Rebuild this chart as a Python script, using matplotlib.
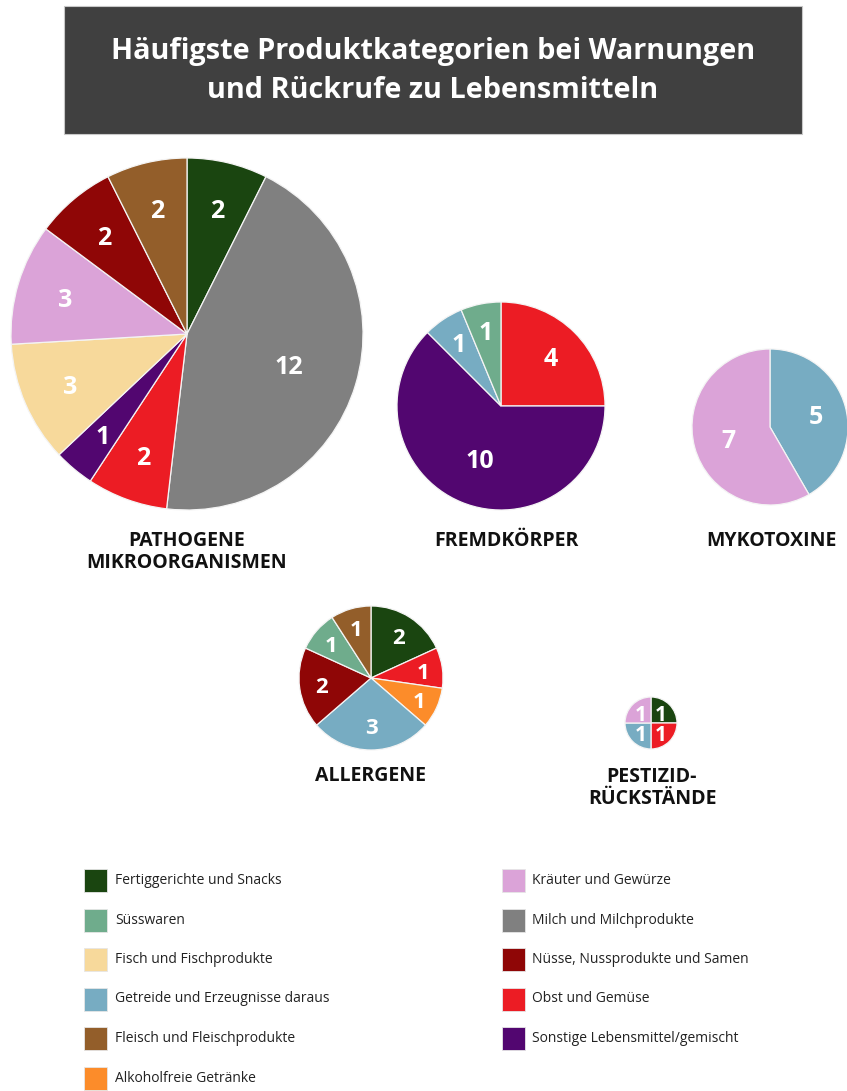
import matplotlib
matplotlib.use("Agg")
import matplotlib.pyplot as plt
from matplotlib.patches import Rectangle
import numpy as np

W, H = 847, 1091
FONT = ["Open Sans", "DejaVu Sans"]

# ---------------- data ----------------
title = "Häufigste Produktkategorien bei Warnungen\nund Rückrufe zu Lebensmitteln"

legend_left = ["Fertiggerichte und Snacks", "Süsswaren", "Fisch und Fischprodukte",
               "Getreide und Erzeugnisse daraus", "Fleisch und Fleischprodukte",
               "Alkoholfreie Getränke"]
legend_right = ["Kräuter und Gewürze", "Milch und Milchprodukte",
                "Nüsse, Nussprodukte und Samen", "Obst und Gemüse",
                "Sonstige Lebensmittel/gemischt"]

colors = {
    "Fertiggerichte und Snacks": "#1a4510",
    "Süsswaren": "#6fac8c",
    "Fisch und Fischprodukte": "#f7d99b",
    "Getreide und Erzeugnisse daraus": "#77acc2",
    "Fleisch und Fleischprodukte": "#935e2a",
    "Alkoholfreie Getränke": "#fc8c2a",
    "Kräuter und Gewürze": "#dba3d8",
    "Milch und Milchprodukte": "#808080",
    "Nüsse, Nussprodukte und Samen": "#8f0606",
    "Obst und Gemüse": "#ec1c24",
    "Sonstige Lebensmittel/gemischt": "#520670",
}

pathogene_cats = ["Fertiggerichte und Snacks", "Milch und Milchprodukte", "Obst und Gemüse",
                  "Sonstige Lebensmittel/gemischt", "Fisch und Fischprodukte",
                  "Kräuter und Gewürze", "Nüsse, Nussprodukte und Samen",
                  "Fleisch und Fleischprodukte"]
pathogene_vals = [2, 12, 2, 1, 3, 3, 2, 2]

fremd_cats = ["Obst und Gemüse", "Sonstige Lebensmittel/gemischt",
              "Getreide und Erzeugnisse daraus", "Süsswaren"]
fremd_vals = [4, 10, 1, 1]

myko_cats = ["Getreide und Erzeugnisse daraus", "Kräuter und Gewürze"]
myko_vals = [5, 7]

allergene_cats = ["Fertiggerichte und Snacks", "Obst und Gemüse", "Alkoholfreie Getränke",
                  "Getreide und Erzeugnisse daraus", "Nüsse, Nussprodukte und Samen",
                  "Süsswaren", "Fleisch und Fleischprodukte"]
allergene_vals = [2, 1, 1, 3, 2, 1, 1]

pestizid_cats = ["Fertiggerichte und Snacks", "Obst und Gemüse",
                 "Getreide und Erzeugnisse daraus", "Kräuter und Gewürze"]
pestizid_vals = [1, 1, 1, 1]

pie_titles = ["PATHOGENE\nMIKROORGANISMEN", "FREMDKÖRPER", "MYKOTOXINE",
              "ALLERGENE", "PESTIZID-\nRÜCKSTÄNDE"]

# ---------------- figure ----------------
fig = plt.figure(figsize=(W / 100, H / 100), dpi=100)
ax = fig.add_axes([0, 0, 1, 1])


def draw_pie(cats, vals, cx, cy, r, fs, dist=None):
    total = sum(vals)
    wedges, _, autotexts = ax.pie(
        vals, colors=[colors[c] for c in cats], startangle=90, counterclock=False,
        center=(cx, H - cy), radius=r,
        autopct=lambda p: f"{int(round(p * total / 100))}",
        wedgeprops=dict(edgecolor="#f4f4f4", linewidth=0.9),
        textprops=dict(color="white", fontsize=fs, fontweight="bold", family=FONT))
    for w, t, v in zip(wedges, autotexts, vals):
        frac = v / total
        d = dist if dist is not None else 0.76 - 0.35 * frac
        ang = np.deg2rad((w.theta1 + w.theta2) / 2)
        t.set_position((cx + d * r * np.cos(ang), H - cy + d * r * np.sin(ang)))
        t.set_va("center_baseline")


draw_pie(pathogene_cats, pathogene_vals, 187, 334, 176, 18)
draw_pie(fremd_cats, fremd_vals, 501, 406, 104, 18)
draw_pie(myko_cats, myko_vals, 770, 427, 78, 18)
draw_pie(allergene_cats, allergene_vals, 371, 678, 72, 16)
draw_pie(pestizid_cats, pestizid_vals, 651, 723, 26, 15, dist=0.55)

ax.set_xlim(0, W)
ax.set_ylim(0, H)
ax.set_aspect("equal")
ax.axis("off")

# title box
ax.add_patch(Rectangle((64, H - 134), 738, 128, facecolor="#404040",
                       edgecolor="#c8c8c8", linewidth=0.8, zorder=0))
ax.text(433, H - 71, title, ha="center", va="center", color="white",
        fontsize=20.8, fontweight="bold", family=FONT, linespacing=1.42)

# pie titles
title_pos = [(187, 552), (506, 541), (771, 541), (370, 776), (652, 788)]
for t, (x, y) in zip(pie_titles, title_pos):
    ax.text(x, H - y, t, ha="center", va="center", color="#111111",
            fontsize=14, fontweight="bold", family=FONT, linespacing=1.15)

# legend
row0, step, sq = 880.5, 39.5, 23
for col, (items, xs, xt) in enumerate([(legend_left, 84, 115), (legend_right, 502, 532)]):
    for i, name in enumerate(items):
        y = row0 + i * step
        ax.add_patch(Rectangle((xs, H - y - sq / 2), sq, sq, facecolor=colors[name],
                               edgecolor="#e6e6e6", linewidth=0.6))
        ax.text(xt, H - y, name, ha="left", va="center", color="#222222",
                fontsize=10, fontweight="normal", family=FONT)

fig.savefig("out.png", dpi=100, facecolor="white")
